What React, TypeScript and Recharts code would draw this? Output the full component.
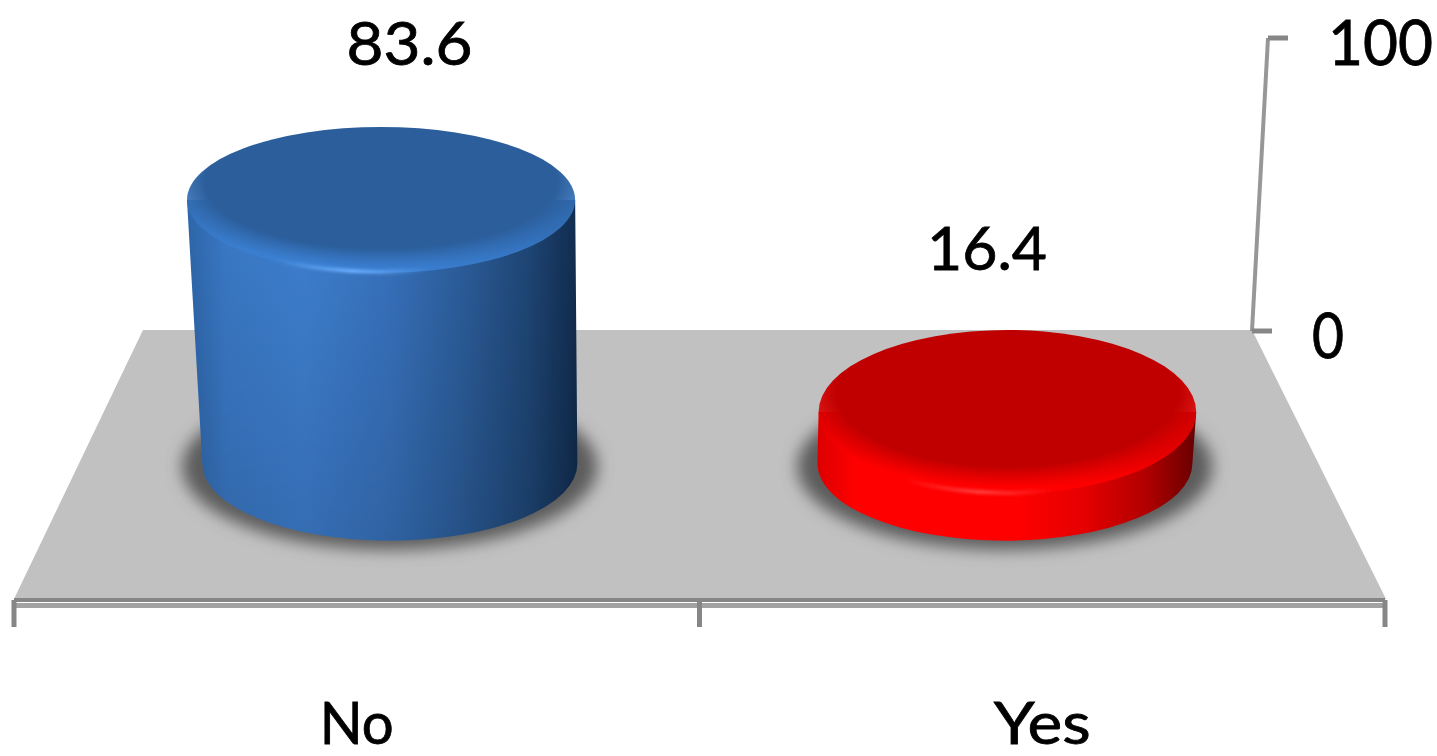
import React from "react";
import { ComposedChart, Bar, Line, XAxis, YAxis, LabelList } from "recharts";

const categories = ["No", "Yes"];
const percentValues = [83.6, 16.4];
const valueTicks = [0, 100];

const chartData = categories.map((name, i) => ({ name, value: percentValues[i] }));

const WIDTH = 1437;
const HEIGHT = 756;
const FONT = "Lato, sans-serif";
const AXIS_GRAY = "#868686";
const HALF_BAND = 342.75;

// the bars stand in front of the back wall, so they get their own scale
const frontDomain = [-43.2, 134.9];
const backDomain = [-91.8, 100];

// perspective: bars are pulled in toward the middle of the floor
const FLOOR_CENTER = 681;
const FLOOR_PULL = 0.8972;
const VANISH_X = 640;

const labelNudge = [
  { dx: 53, dy: -135, length: 126 },
  { dx: -55, dy: -142, length: 120 },
];
const categoryLength = [74, 97];

const barColors = [
  {
    top: "#2b5e9b",
    rim: "#3a7fd2",
    streak: "#6cb0ff",
    shade: 0.14,
    body: ["#2e66aa", "#3a79c6", "#3e7fd0", "#3772bd", "#2c5e9c", "#1f4777", "#112c4f"],
  },
  {
    top: "#c00000",
    rim: "#ff0000",
    streak: "#ff4040",
    shade: 0,
    body: ["#dc0000", "#ff0000", "#ff0000", "#ff0000", "#e60000", "#b00000", "#680000"],
  },
];
const bodyStops = [0, 0.1, 0.3, 0.52, 0.7, 0.87, 1];

const Defs = () => (
  <defs>
    <filter id="floorShadow" x="-20%" y="-30%" width="140%" height="160%">
      <feGaussianBlur stdDeviation="8" />
    </filter>
    <filter id="soft" x="-10%" y="-100%" width="120%" height="300%">
      <feGaussianBlur stdDeviation="1.4" />
    </filter>
    {barColors.map((c, i) => (
      <React.Fragment key={i}>
        <linearGradient id={`body${i}`} x1="0" x2="1" y1="0" y2="0">
          {c.body.map((color, k) => (
            <stop key={k} offset={bodyStops[k]} stopColor={color} />
          ))}
        </linearGradient>
        <linearGradient id={`bodyShade${i}`} x1="0" x2="0" y1="0" y2="1">
          <stop offset="0" stopColor="#000" stopOpacity="0" />
          <stop offset="1" stopColor="#000" stopOpacity={c.shade} />
        </linearGradient>
        <radialGradient id={`lid${i}`} cx="0.5" cy="0.38" r="0.63">
          <stop offset="0" stopColor={c.top} />
          <stop offset="0.72" stopColor={c.top} />
          <stop offset="0.92" stopColor={c.rim} stopOpacity="0.8" />
          <stop offset="1" stopColor={c.rim} />
        </radialGradient>
        <linearGradient id={`streak${i}`} x1="0" x2="1" y1="0" y2="0">
          <stop offset="0" stopColor={c.streak} stopOpacity="0" />
          <stop offset="0.5" stopColor={c.streak} stopOpacity="1" />
          <stop offset="1" stopColor={c.streak} stopOpacity="0" />
        </linearGradient>
      </React.Fragment>
    ))}
  </defs>
);

// draws a tapered cylinder inside the rectangle the bar scale hands out
const Cylinder = (props: any) => {
  const { x, y, width, height, index } = props;
  const center = x + width / 2;
  const baseX = FLOOR_CENTER + (center - FLOOR_CENTER) * FLOOR_PULL;
  const baseY = y + height;
  const baseRx = width / 2;
  const baseRy = 77;
  const topRx = baseRx + height * 0.025;
  const topRy = 84.2 - height * 0.0425;
  const topX = VANISH_X + (baseX - VANISH_X) * (topRx / baseRx);

  const body = [
    `M ${topX - topRx} ${y}`,
    `L ${baseX - baseRx} ${baseY}`,
    `A ${baseRx} ${baseRy} 0 0 0 ${baseX + baseRx} ${baseY}`,
    `L ${topX + topRx} ${y}`,
    "Z",
  ].join(" ");

  // highlight that follows the front edge of the lid
  const frontEdge = (t: number) => [topX + topRx * t, y + topRy * Math.sqrt(1 - t * t) - 1];
  const [sx, sy] = frontEdge(-0.55);
  const [ex, ey] = frontEdge(0.25);
  const streak = `M ${sx} ${sy} A ${topRx} ${topRy} 0 0 0 ${ex} ${ey}`;

  return (
    <g>
      <ellipse cx={baseX} cy={baseY + 3} rx={baseRx + 20} ry={baseRy + 6} fill="#5c5c5c" filter="url(#floorShadow)" />
      <path d={body} fill={`url(#body${index})`} />
      <path d={body} fill={`url(#bodyShade${index})`} />
      <ellipse cx={topX} cy={y} rx={topRx} ry={topRy} fill={`url(#lid${index})`} />
      <path d={streak} fill="none" stroke={`url(#streak${index})`} strokeWidth={4} filter="url(#soft)" />
    </g>
  );
};

const ValueLabel = (props: any) => {
  const { x, y, width, value, index } = props;
  const nudge = labelNudge[index];
  return (
    <text
      x={x + width / 2 + nudge.dx}
      y={y + nudge.dy}
      textAnchor="middle"
      fontFamily={FONT}
      fontSize={60}
      fill="#000"
      stroke="#000"
      strokeWidth={0.8}
      textLength={nudge.length}
      lengthAdjust="spacingAndGlyphs"
    >
      {value}
    </text>
  );
};

// slanted wall axis: each tick leans with the height of its value
const ValueTick = (props: any) => {
  const { y, payload } = props;
  const lean = 1252 + (payload.value / 100) * 16;
  const text = String(payload.value);
  return (
    <g>
      <line x1={lean} x2={lean + 20} y1={y} y2={y} stroke={AXIS_GRAY} strokeWidth={5} />
      <text
        x={lean + 60}
        y={y + 27}
        fontFamily={FONT}
        fontSize={62}
        fill="#000"
        stroke="#000"
        strokeWidth={0.8}
        textLength={text.length === 1 ? 32 : 105}
        lengthAdjust="spacingAndGlyphs"
      >
        {text}
      </text>
    </g>
  );
};

const CategoryTick = (props: any) => {
  const { x, payload, index } = props;
  const left = x - HALF_BAND;
  const tickMark = (at: number) => (
    <line x1={at} x2={at} y1={600} y2={627} stroke={AXIS_GRAY} strokeWidth={5} />
  );
  return (
    <g>
      {tickMark(left)}
      {index === categories.length - 1 && tickMark(x + HALF_BAND)}
      <text
        x={x}
        y={744}
        textAnchor="middle"
        fontFamily={FONT}
        fontSize={58}
        fill="#000"
        stroke="#000"
        strokeWidth={0.8}
        textLength={categoryLength[index]}
        lengthAdjust="spacingAndGlyphs"
      >
        {payload.value}
      </text>
    </g>
  );
};

export default function App() {
  return (
    <div style={{ position: "absolute", left: 0, top: 0, width: WIDTH, height: HEIGHT, background: "#fff" }}>
      <ComposedChart
        width={WIDTH}
        height={HEIGHT}
        data={chartData}
        margin={{ top: 38, right: 0, bottom: 0, left: 14 }}
        barSize={375}
      >
        <Defs />
        <polygon points="143,330 1252,330 1386,599 14,599" fill="#c1c1c1" />
        <rect x={14} y={603} width={1371} height={5} fill="#a2a2a2" />
        <line x1={1268} y1={38} x2={1252} y2={331} stroke={AXIS_GRAY} strokeWidth={4} opacity={0.85} />
        <XAxis
          dataKey="name"
          height={156}
          axisLine={{ stroke: AXIS_GRAY, strokeWidth: 4 }}
          tickLine={false}
          interval={0}
          tick={<CategoryTick />}
        />
        <YAxis
          yAxisId="wall"
          orientation="right"
          width={52}
          domain={backDomain}
          ticks={valueTicks}
          axisLine={false}
          tickLine={false}
          interval={0}
          tick={<ValueTick />}
        />
        <YAxis yAxisId="front" hide domain={frontDomain} />
        {/* no stroke: only keeps the wall axis attached to the data */}
        <Line yAxisId="wall" dataKey="value" stroke="none" dot={false} legendType="none" isAnimationActive={false} />
        <Bar yAxisId="front" dataKey="value" isAnimationActive={false} shape={<Cylinder />}>
          <LabelList dataKey="value" content={<ValueLabel />} />
        </Bar>
      </ComposedChart>
    </div>
  );
}
